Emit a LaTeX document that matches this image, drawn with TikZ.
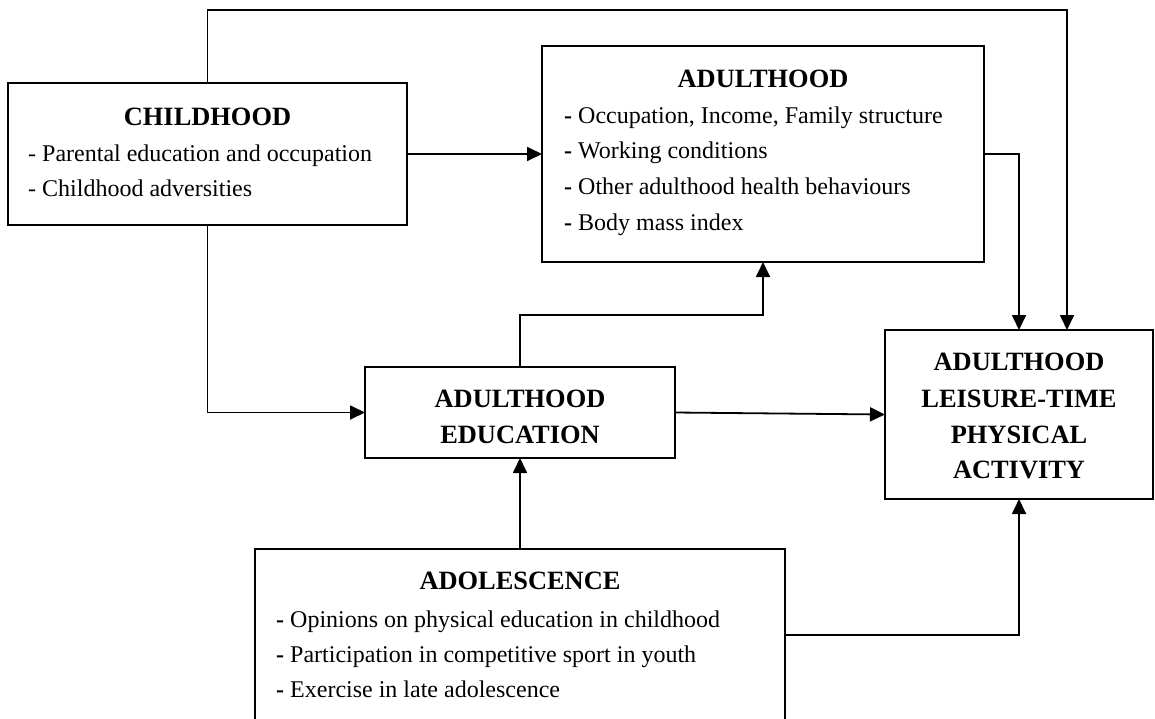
\documentclass[tikz,border=0pt]{standalone}
\usepackage{fontspec}
\setmainfont{Liberation Serif}
\usetikzlibrary{arrows.meta}
\begin{document}
\begin{tikzpicture}[x=1pt,y=-1pt,
  box/.style={draw,line width=1.8pt,inner sep=0pt,outer sep=0pt},
  ttl/.style={font=\fontsize{26.4}{30}\selectfont\bfseries,anchor=base,inner sep=0pt},
  itm/.style={font=\fontsize{24}{28}\selectfont,anchor=base west,inner sep=0pt},
  conn/.style={line width=1.8pt},
  arr/.style={conn,-{Triangle[length=15pt,width=14pt]}}]
\clip (0,0) rectangle (1155,718);
\fill[white] (0,0) rectangle (1155,718);
% boxes
\node[box,minimum width=399pt,minimum height=142pt] (childbox) at (207.5,154) {};
\node[box,minimum width=442pt,minimum height=216pt] (adultbox) at (763,154) {};
\node[box,minimum width=310pt,minimum height=91pt] (edubox) at (520,412.5) {};
\node[box,minimum width=268pt,minimum height=169pt] (ltpabox) at (1019,414.5) {};
\node[box,minimum width=530pt,minimum height=172pt] (adolbox) at (520,635) {};
% childhood texts
\node[ttl] (childttl) at (207.5,125) {CHILDHOOD};
\node[itm] (child1) at (28,161) {- Parental education and occupation};
\node[itm] (child2) at (28,196) {- Childhood adversities};
% adulthood texts
\node[ttl] (adultttl) at (763,87) {ADULTHOOD};
\node[itm] (adult1) at (564,123) {\textbf{-} Occupation, Income, Family structure};
\node[itm] (adult2) at (564,158) {\textbf{-} Working conditions};
\node[itm] (adult3) at (564,194) {\textbf{-} Other adulthood health behaviours};
\node[itm] (adult4) at (564,230) {\textbf{-} Body mass index};
% education
\node[ttl] (edu1) at (520,407) {ADULTHOOD};
\node[ttl] (edu2) at (520,443) {EDUCATION};
% LTPA
\node[ttl] (ltpa1) at (1019,370) {ADULTHOOD};
\node[ttl] (ltpa2) at (1019,407) {LEISURE-TIME};
\node[ttl] (ltpa3) at (1019,443) {PHYSICAL};
\node[ttl] (ltpa4) at (1019,478) {ACTIVITY};
% adolescence
\node[ttl] (adolttl) at (520,589) {ADOLESCENCE};
\node[itm] (adol1) at (276,627) {\textbf{-} Opinions on physical education in childhood};
\node[itm] (adol2) at (276,662) {\textbf{-} Participation in competitive sport in youth};
\node[itm] (adol3) at (276,697) {\textbf{-} Exercise in late adolescence};
% connectors
\coordinate (topL) at (207.5,10);
\coordinate (topR) at (1067,10);
\coordinate (eduUp) at (520,315);
\draw[arr] (childbox.north) -- (topL) -- (topR) -- (topR |- ltpabox.north);
\draw[arr] (childbox.east) -- (childbox.east -| adultbox.west);
\draw[arr] (childbox.south) |- (edubox.west);
\draw[arr] (adultbox.east) -| (ltpabox.north);
\draw[arr] (edubox.north) -- (eduUp) -| (adultbox.south);
\draw[arr] (edubox.east) -- (ltpabox.west);
\draw[arr] (adolbox.north) -- (edubox.south);
\draw[arr] (adolbox.east) -| (ltpabox.south);
\end{tikzpicture}
\end{document}
